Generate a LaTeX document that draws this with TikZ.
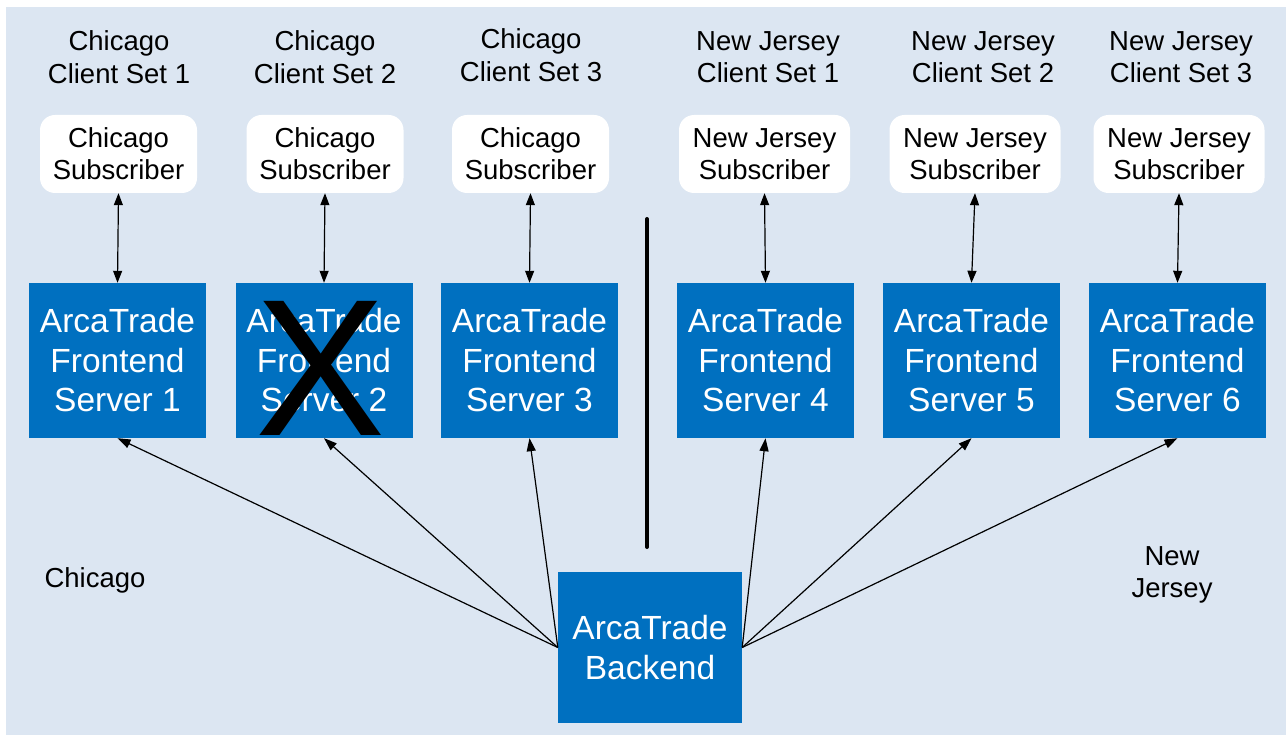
\documentclass[tikz,border=0pt]{standalone}
\usepackage{fontspec}
\setmainfont{Liberation Sans}
\usetikzlibrary{arrows.meta}
\definecolor{bg}{HTML}{DCE6F2}
\definecolor{boxblue}{HTML}{0070C0}
\tikzset{
 fe/.style={fill=boxblue, minimum width=177pt, minimum height=155pt, inner sep=0pt, text=white, align=center, font=\fontsize{33.5}{39.5}\selectfont},
 sub/.style={fill=white, rounded corners=15pt, minimum height=78pt, minimum width=157pt, inner sep=0pt, align=center, font=\fontsize{27.5}{32}\selectfont},
 subnj/.style={sub, minimum width=171pt},
 lbl/.style={align=center, font=\fontsize{27.5}{32.5}\selectfont, inner sep=0pt},
 link/.style={line width=1.2pt, -{Triangle[length=13pt,width=9pt]}},
 dlink/.style={line width=1.2pt, {Triangle[length=12pt,width=9pt]}-{Triangle[length=12pt,width=9pt]}},
}
\begin{document}
\begin{tikzpicture}[x=1pt,y=-1pt]
\useasboundingbox (0,0) rectangle (1288,735);
\fill[white] (0,0) rectangle (1288,735);
\fill[bg] (6,7) rectangle (1286,735);
% top labels
\node[lbl] (l1) at (119,57) {Chicago\\Client Set 1};
\node[lbl] (l2) at (325,57) {Chicago\\Client Set 2};
\node[lbl] (l3) at (531,55) {Chicago\\Client Set 3};
\node[lbl] (l4) at (768,57) {New Jersey\\Client Set 1};
\node[lbl] (l5) at (983,57) {New Jersey\\Client Set 2};
\node[lbl] (l6) at (1181,57) {New Jersey\\Client Set 3};
% subscribers
\node[sub] (s1) at (118.5,154) {Chicago\\Subscriber};
\node[sub] (s2) at (325,154) {Chicago\\Subscriber};
\node[sub] (s3) at (530.5,154) {Chicago\\Subscriber};
\node[subnj] (s4) at (764.5,154) {New Jersey\\Subscriber};
\node[subnj] (s5) at (975,154) {New Jersey\\Subscriber};
\node[subnj] (s6) at (1179,154) {New Jersey\\Subscriber};
% frontends
\node[fe] (f1) at (117.5,360.5) {ArcaTrade\\Frontend\\Server 1};
\node[fe] (f2) at (324,360.5) {ArcaTrade\\Frontend\\Server 2};
\node[fe] (f3) at (529.5,360.5) {ArcaTrade\\Frontend\\Server 3};
\node[fe] (f4) at (765.5,360.5) {ArcaTrade\\Frontend\\Server 4};
\node[fe] (f5) at (971.5,360.5) {ArcaTrade\\Frontend\\Server 5};
\node[fe] (f6) at (1177.5,360.5) {ArcaTrade\\Frontend\\Server 6};
% failed marker
\node[inner sep=0pt, font=\fontsize{195}{195}\selectfont] (xmark) at (321,368) {X};
% backend
\node[fe, minimum width=184pt, minimum height=151pt] (be) at (650,647.5) {ArcaTrade\\Backend};
% region labels
\node[lbl] (chi) at (95,580) {Chicago};
\node[lbl] (nj) at (1172,575) {New\\Jersey};
% divider
\coordinate (dtop) at (647,219);
\coordinate (dbot) at (647,547);
\draw[line width=4pt, line cap=round] (dtop) -- (dbot);
% subscriber links
\foreach \i in {1,...,6} {
  \draw[dlink] (s\i.south) -- (f\i.north);
}
% backend links
\foreach \i in {1,2,3} {
  \draw[link] (be.west) -- (f\i.south);
}
\foreach \i in {4,5,6} {
  \draw[link] (be.east) -- (f\i.south);
}
\end{tikzpicture}
\end{document}
